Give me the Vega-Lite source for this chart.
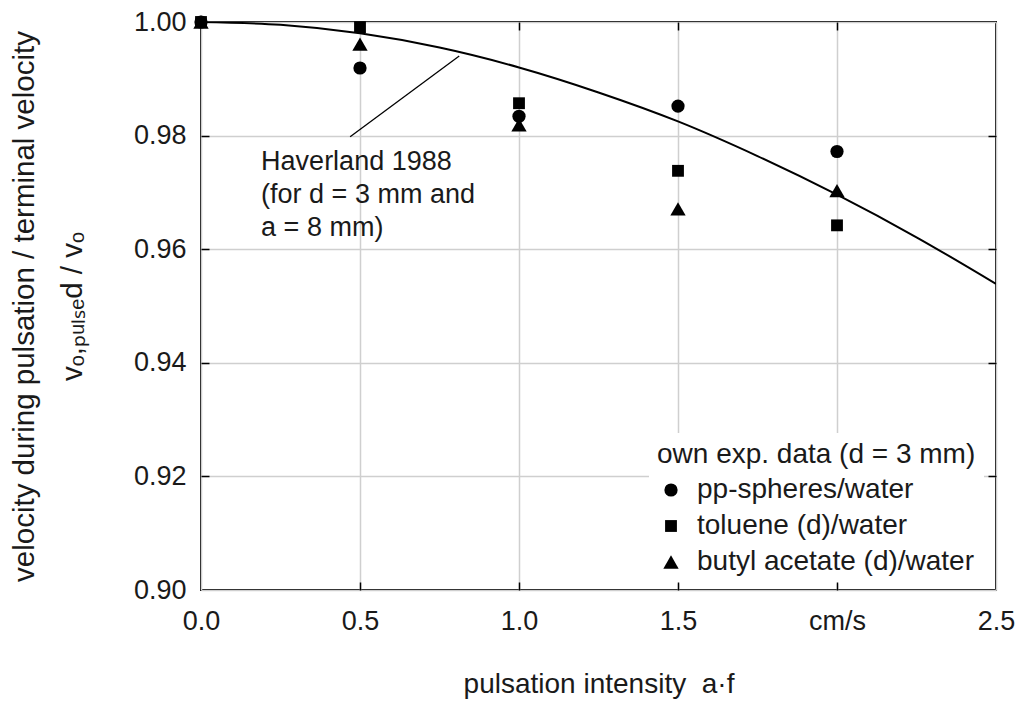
{
  "$schema": "https://vega.github.io/schema/vega-lite/v6.json",
  "width": 795,
  "height": 568,
  "autosize": "none",
  "padding": {"left": 201, "top": 22, "right": 24, "bottom": 112},
  "background": "white",
  "config": {
    "font": "Liberation Sans",
    "view": {"stroke": "black", "strokeWidth": 2},
    "axis": {
      "labelFont": "Liberation Sans",
      "labelFontSize": 27,
      "labelColor": "#1a1a1a",
      "titleFont": "Liberation Sans",
      "titleFontSize": 28,
      "titleFontWeight": "normal",
      "titleColor": "#1a1a1a",
      "domain": false,
      "tickColor": "black",
      "tickWidth": 1.5,
      "gridColor": "#cfcfcf",
      "gridWidth": 1.5,
      "gridOpacity": 1,
      "labelFlush": false,
      "labelOverlap": false
    },
    "legend": {
      "orient": "none",
      "legendX": 448,
      "legendY": 411,
      "padding": 8,
      "fillColor": "white",
      "strokeColor": null,
      "titleFont": "Liberation Sans",
      "titleFontSize": 28,
      "titleFontWeight": "normal",
      "titleColor": "#1a1a1a",
      "titleLimit": 0,
      "titlePadding": 7,
      "labelFont": "Liberation Sans",
      "labelFontSize": 28,
      "labelColor": "#1a1a1a",
      "labelLimit": 0,
      "labelOffset": 12,
      "rowPadding": 8,
      "symbolStrokeWidth": 0,
      "symbolFillColor": "black"
    }
  },
  "datasets": {
    "measured": [
      {"series": "toluene (d)/water", "a_f": 0.0, "ratio": 1.0},
      {"series": "toluene (d)/water", "a_f": 0.5, "ratio": 0.9991},
      {"series": "toluene (d)/water", "a_f": 1.0, "ratio": 0.9857},
      {"series": "toluene (d)/water", "a_f": 1.5, "ratio": 0.9738},
      {"series": "toluene (d)/water", "a_f": 2.0, "ratio": 0.9642},
      {"series": "butyl acetate (d)/water", "a_f": 0.0, "ratio": 1.0},
      {"series": "butyl acetate (d)/water", "a_f": 0.5, "ratio": 0.9961},
      {"series": "butyl acetate (d)/water", "a_f": 1.0, "ratio": 0.9819},
      {"series": "butyl acetate (d)/water", "a_f": 1.5, "ratio": 0.9671},
      {"series": "butyl acetate (d)/water", "a_f": 2.0, "ratio": 0.9703},
      {"series": "pp-spheres/water", "a_f": 0.0, "ratio": 1.0},
      {"series": "pp-spheres/water", "a_f": 0.5, "ratio": 0.9919},
      {"series": "pp-spheres/water", "a_f": 1.0, "ratio": 0.9834},
      {"series": "pp-spheres/water", "a_f": 1.5, "ratio": 0.9852},
      {"series": "pp-spheres/water", "a_f": 2.0, "ratio": 0.9772}
    ],
    "haverland": [
      {"a_f": 0.0, "ratio": 1.0},
      {"a_f": 0.25, "ratio": 0.9995},
      {"a_f": 0.5, "ratio": 0.998},
      {"a_f": 0.75, "ratio": 0.9955},
      {"a_f": 1.0, "ratio": 0.992},
      {"a_f": 1.25, "ratio": 0.9876},
      {"a_f": 1.5, "ratio": 0.9825},
      {"a_f": 1.75, "ratio": 0.9764},
      {"a_f": 2.0, "ratio": 0.9696},
      {"a_f": 2.25, "ratio": 0.9621},
      {"a_f": 2.5, "ratio": 0.9539}
    ],
    "leader": [
      {"a_f": 0.469, "ratio": 0.9798, "a_f2": 0.812, "ratio2": 0.9940}
    ],
    "note": [
      {"a_f": 0.189, "ratio": 0.97394, "label": "Haverland 1988\n(for d = 3 mm and\na = 8 mm)"}
    ]
  },
  "layer": [
    {
      "data": {"name": "haverland"},
      "mark": {"type": "line", "color": "black", "strokeWidth": 2, "interpolate": "monotone", "clip": true},
      "encoding": {
        "x": {"field": "a_f", "type": "quantitative", "scale": {"domain": [0, 2.5], "nice": false, "zero": false},
          "axis": {"orient": "top", "offset": -568, "values": [0.5, 1, 1.5, 2], "labels": false, "title": null, "grid": false, "ticks": true, "tickSize": 8, "zindex": 2}},
        "y": {"field": "ratio", "type": "quantitative", "scale": {"domain": [0.9, 1.0], "nice": false, "zero": false},
          "axis": {"orient": "right", "offset": -795, "values": [0.92, 0.94, 0.96, 0.98], "labels": false, "title": null, "grid": false, "ticks": true, "tickSize": 8, "zindex": 2}}
      }
    },
    {
      "data": {"name": "leader"},
      "mark": {"type": "rule", "color": "black", "strokeWidth": 1.3},
      "encoding": {
        "x": {"field": "a_f", "type": "quantitative", "scale": {"domain": [0, 2.5], "nice": false, "zero": false},
          "axis": {"orient": "bottom", "offset": -568, "values": [0.5, 1, 1.5, 2], "labels": false, "title": null, "grid": false, "ticks": true, "tickSize": 8, "zindex": 2}},
        "y": {"field": "ratio", "type": "quantitative", "scale": {"domain": [0.9, 1.0], "nice": false, "zero": false},
          "axis": {"orient": "left", "offset": -795, "values": [0.92, 0.94, 0.96, 0.98], "labels": false, "title": null, "grid": false, "ticks": true, "tickSize": 8, "zindex": 2}},
        "x2": {"field": "a_f2"},
        "y2": {"field": "ratio2"}
      }
    },
    {
      "data": {"name": "note"},
      "mark": {"type": "text", "align": "left", "baseline": "alphabetic", "fontSize": 27, "lineHeight": 33, "lineBreak": "\n", "color": "#1a1a1a", "font": "Liberation Sans"},
      "encoding": {
        "x": {"field": "a_f", "type": "quantitative", "scale": {"domain": [0, 2.5], "nice": false, "zero": false}, "axis": null},
        "y": {"field": "ratio", "type": "quantitative", "scale": {"domain": [0.9, 1.0], "nice": false, "zero": false}, "axis": null},
        "text": {"field": "label"}
      }
    },
    {
      "data": {"name": "measured"},
      "mark": {"type": "point", "filled": true, "opacity": 1, "clip": false},
      "encoding": {
        "x": {"field": "a_f", "type": "quantitative", "scale": {"domain": [0, 2.5], "nice": false, "zero": false},
          "axis": {"orient": "bottom", "values": [0, 0.5, 1, 1.5, 2, 2.5], "grid": true, "ticks": false, "tickSize": 0,
            "labelExpr": "datum.value == 2 ? 'cm/s' : format(datum.value, '.1f')",
            "labelPadding": 18, "title": "pulsation intensity\u00a0 a·f", "titlePadding": 36}},
        "y": {"field": "ratio", "type": "quantitative", "scale": {"domain": [0.9, 1.0], "nice": false, "zero": false},
          "axis": {"orient": "left", "values": [0.9, 0.92, 0.94, 0.96, 0.98, 1.0], "format": ".2f", "grid": true, "ticks": false, "tickSize": 0,
            "labelPadding": 15,
            "title": ["velocity during pulsation / terminal velocity", "vₒ,ₚᵤₗₛₑd / vₒ"],
            "titleFontSize": 29.5, "titleLineHeight": 48, "titlePadding": 46}},
        "shape": {"field": "series", "type": "nominal",
          "scale": {"domain": ["pp-spheres/water", "toluene (d)/water", "butyl acetate (d)/water"], "range": ["circle", "square", "triangle-up"]},
          "legend": {"title": "own exp. data (d = 3 mm)"}},
        "size": {"field": "series", "type": "nominal",
          "scale": {"type": "ordinal", "domain": ["pp-spheres/water", "toluene (d)/water", "butyl acetate (d)/water"], "range": [175, 140, 235]},
          "legend": {"title": "own exp. data (d = 3 mm)"}},
        "color": {"value": "black"}
      }
    }
  ],
  "resolve": {"axis": {"x": "independent", "y": "independent"}}
}
